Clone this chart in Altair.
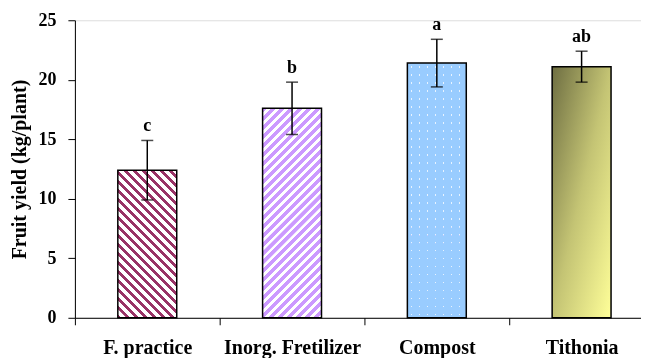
import altair as alt
import pandas as pd

categories = ["F. practice", "Inorg. Fretilizer", "Compost", "Tithonia"]
values = [12.4, 17.6, 21.4, 21.1]
errors = [2.5, 2.2, 2.0, 1.3]
letters = ["c", "b", "a", "ab"]

df = pd.DataFrame({
    "cat": categories,
    "val": values,
    "err": errors,
    "letter": letters,
})
df["lo"] = df["val"] - df["err"]
df["hi"] = df["val"] + df["err"]

W = 567
H = 298
BAR_W = 59
YMAX = 25
FONT = "Liberation Serif"
STEP = 145
P_IN = 1 - BAR_W / STEP
HALF_GAP = STEP * P_IN / 2


def bar_px(v):
    return v / YMAX * H


def stripes(dark, light, period, w, h, kind, duty=0.45):
    r = h / w
    s = (1 + r) / (1 + r * r)
    if kind == "back":   # "\" stripes
        x1, y1, x2, y2 = 0, 1, s, 1 - s * r
    else:                # "/" stripes
        x1, y1, x2, y2 = 0, 0, s, s * r
    n = int(round((w + h) / period))
    stops = []
    for i in range(n):
        a = i / n
        b = (i + duty) / n
        c = (i + 1) / n
        stops += [
            {"offset": a, "color": dark},
            {"offset": b, "color": dark},
            {"offset": min(b + 0.0005, 1), "color": light},
            {"offset": max(c - 0.0005, 0), "color": light},
        ]
    return {"gradient": "linear", "x1": x1, "y1": y1, "x2": x2, "y2": y2, "stops": stops}


def band_grad(length, period, dot, vertical, on="white"):
    n = int(length // period)
    stops = []
    for i in range(n + 1):
        c = (i * period + period / 2) / length
        a = c - dot / 2 / length
        b = c + dot / 2 / length
        if b > 1:
            break
        stops += [
            {"offset": max(a - 0.0005, 0), "color": "black"},
            {"offset": a, "color": on},
            {"offset": b, "color": on},
            {"offset": min(b + 0.0005, 1), "color": "black"},
        ]
    if vertical:
        return {"gradient": "linear", "x1": 0, "y1": 0, "x2": 0, "y2": 1, "stops": stops}
    return {"gradient": "linear", "x1": 0, "y1": 0, "x2": 1, "y2": 0, "stops": stops}


# outer padding / alignment so that bands keep a 145px step inside the range
p_out = (W / STEP - (len(categories) - P_IN)) / 2
left_over = W - STEP * (len(categories) - P_IN)
align = HALF_GAP / left_over

xscale = alt.Scale(domain=categories, paddingInner=P_IN, paddingOuter=p_out, align=align)
yscale = alt.Scale(domain=[0, YMAX], nice=False)

xenc = alt.X("cat:N", scale=xscale, sort=categories,
             axis=alt.Axis(title=None, labelAngle=0, bandPosition=0, tickExtra=False,
                           tickOffset=-HALF_GAP, labelOffset=HALF_GAP, domainColor="black",
                           tickColor="black", tickSize=7, labelFont=FONT, labelFontWeight="bold",
                           labelFontSize=20, labelColor="black", labelPadding=13, domainWidth=1))
yenc = alt.Y("val:Q", scale=yscale,
             axis=alt.Axis(title="Fruit yield (kg/plant)", values=[0, 5, 10, 15, 20, 25], grid=False,
                           domainColor="black", tickColor="black", tickSize=7,
                           labelFont=FONT, labelFontWeight="bold", labelFontSize=18, labelColor="black",
                           labelPadding=12, titleFont=FONT, titleFontWeight="bold", titleFontSize=20,
                           titleColor="black", titlePadding=8))

base = alt.Chart(df)
layers = []

# F. practice
h0 = bar_px(values[0])
layers.append(base.transform_filter(alt.datum.cat == categories[0]).mark_bar(
    size=BAR_W, stroke="black", strokeWidth=1.5,
    fill=stripes("#993366", "#FFFFFF", 9, BAR_W, h0, "back", 0.42)).encode(x=xenc, y=yenc))

# Inorg.
h1 = bar_px(values[1])
layers.append(base.transform_filter(alt.datum.cat == categories[1]).mark_bar(
    size=BAR_W, stroke="black", strokeWidth=1.5,
    fill=stripes("#CC99FF", "#FFFFFF", 9, BAR_W, h1, "fwd", 0.55)).encode(x=xenc, y=yenc))

# Compost: blue with white dots
h2 = bar_px(values[2])
cbase = base.transform_filter(alt.datum.cat == categories[2])
layers.append(cbase.mark_bar(size=BAR_W, fill=band_grad(h2, 8, 1.3, True)).encode(x=xenc, y=yenc))
layers.append(cbase.mark_bar(size=BAR_W, blend="multiply",
                             fill=band_grad(BAR_W, 8, 1.3, False, "#E8F3FF")).encode(x=xenc, y=yenc))
layers.append(cbase.mark_bar(size=BAR_W, blend="lighten", fill="#99CCFF").encode(x=xenc, y=yenc))
layers.append(cbase.mark_bar(size=BAR_W, fillOpacity=0, stroke="black", strokeWidth=1.5).encode(x=xenc, y=yenc))

# Tithonia gradient
layers.append(base.transform_filter(alt.datum.cat == categories[3]).mark_bar(
    size=BAR_W, stroke="black", strokeWidth=1.5,
    fill={"gradient": "linear", "x1": 0, "y1": 0, "x2": 1, "y2": 1,
          "stops": [{"offset": 0, "color": "#6E6E42"},
                    {"offset": 0.5, "color": "#C4C474"},
                    {"offset": 1, "color": "#FFFF99"}]}).encode(x=xenc, y=yenc))

rule = base.mark_rule(color="black", strokeWidth=1.5).encode(x=xenc, y=alt.Y("lo:Q", scale=yscale), y2="hi:Q")
cap_lo = base.mark_tick(color="black", thickness=1.5, size=12).encode(x=xenc, y=alt.Y("lo:Q", scale=yscale))
cap_hi = base.mark_tick(color="black", thickness=1.5, size=12).encode(x=xenc, y=alt.Y("hi:Q", scale=yscale))
text = base.mark_text(font=FONT, fontWeight="bold", fontSize=18, color="black", baseline="bottom", dy=-5).encode(
    x=xenc, y=alt.Y("hi:Q", scale=yscale), text="letter:N")

chart = alt.layer(*layers, rule, cap_lo, cap_hi, text).properties(
    width=W, height=H, padding={"left": 2, "top": 3, "right": 0, "bottom": 0}
).configure_view(stroke=None).configure(background="white")

chart.save("out.html", embed_options={"renderer": "svg", "actions": False})
